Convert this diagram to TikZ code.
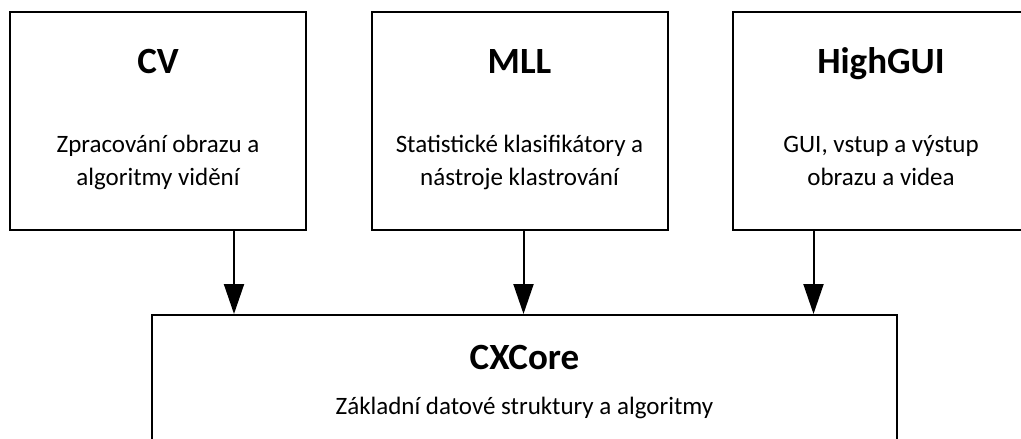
\documentclass[tikz,border=0pt]{standalone}
\usepackage{fontspec}
\setmainfont{Carlito}
\usetikzlibrary{arrows.meta}

\tikzset{
  modul/.style={draw, line width=2pt, minimum width=296pt, minimum height=218pt, inner sep=0pt},
  jadro/.style={draw, line width=2pt, minimum width=745pt, minimum height=160pt, inner sep=0pt},
  nadpis/.style={anchor=base, font=\bfseries\fontsize{37}{40}\selectfont, inner sep=0pt},
  popis/.style={anchor=base, font=\fontsize{25}{30}\selectfont, inner sep=0pt},
  sipka/.style={-{Triangle[length=30pt,width=20pt]}, line width=2pt}
}

\begin{document}
\begin{tikzpicture}[x=1pt,y=-1pt]
\clip (0,0) rectangle (1021,439);
\fill[white] (0,0) rectangle (1021,439);
% moduly
\node[modul] (cv) at (158,121) {};
\node[modul] (mll) at (519.5,121) {};
\node[modul] (gui) at (881,121) {};
\node[jadro] (core) at (524.5,395) {};
% texty
\node[nadpis] (cvt) at (158,73) {CV};
\node[popis] (cvp1) at (158,152) {Zpracování obrazu a};
\node[popis] (cvp2) at (158,185) {algoritmy vidění};
\node[nadpis] (mllt) at (519.5,73) {MLL};
\node[popis] (mllp1) at (519.5,152) {Statistické klasifikátory a};
\node[popis] (mllp2) at (519.5,185) {nástroje klastrování};
\node[nadpis] (guit) at (881,73) {HighGUI};
\node[popis] (guip1) at (881,152) {GUI, vstup a výstup};
\node[popis] (guip2) at (881,185) {obrazu a videa};
\node[nadpis] (coret) at (524.5,369) {CXCore};
\node[popis] (corep) at (524.5,414) {Základní datové struktury a algoritmy};
% sipky
\coordinate (s1) at (234,0);
\coordinate (s2) at (523.5,0);
\coordinate (s3) at (813.5,0);
\draw[sipka] (cv.south -| s1) -- (core.north -| s1);
\draw[sipka] (mll.south -| s2) -- (core.north -| s2);
\draw[sipka] (gui.south -| s3) -- (core.north -| s3);
\end{tikzpicture}
\end{document}
